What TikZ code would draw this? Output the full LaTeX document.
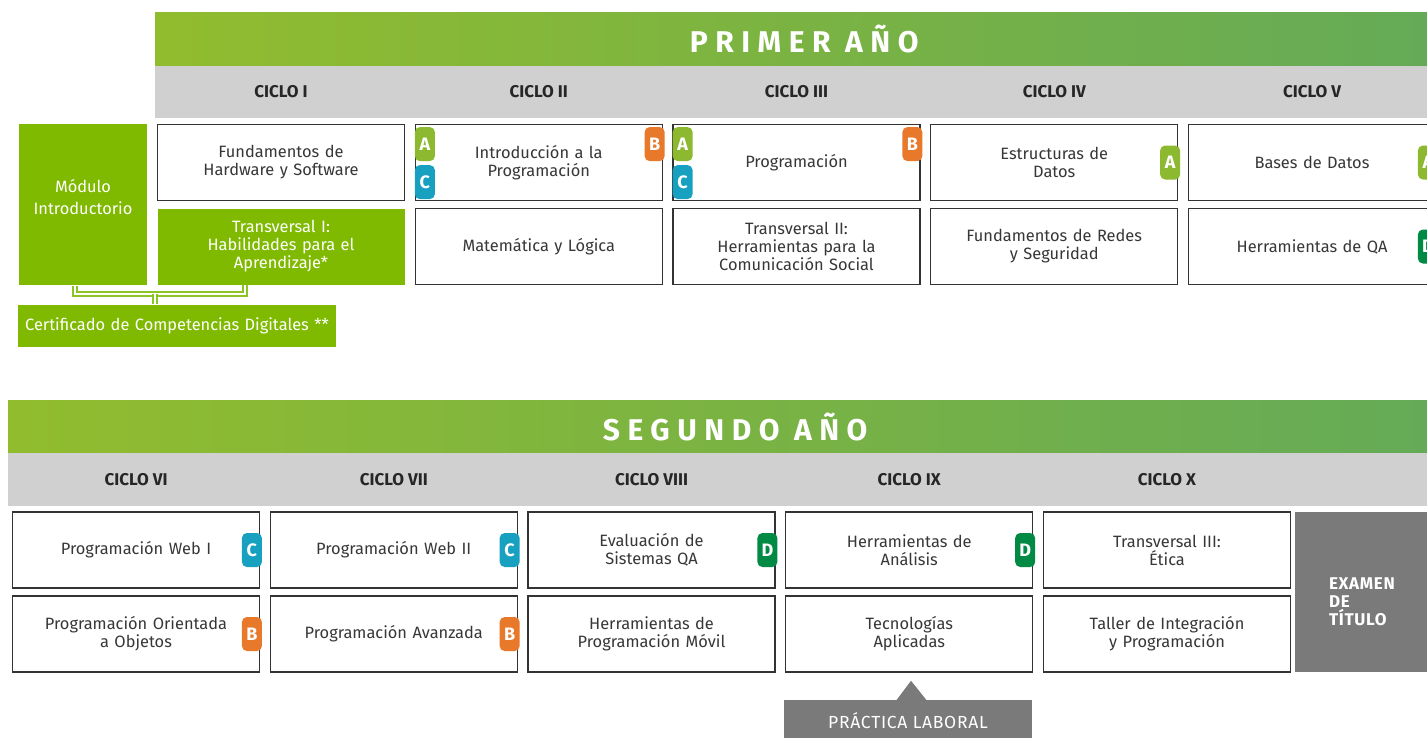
\documentclass[tikz,border=0pt]{standalone}
\usepackage{fontspec}
\setmainfont{Fira Sans}
\usepackage{tikz}
\usetikzlibrary{arrows,shapes,positioning}
\usepackage{xcolor}
\definecolor{dfgreen}{RGB}{127,186,0}
\definecolor{dflime}{RGB}{141,185,48}
\definecolor{dforange}{RGB}{232,120,42}
\definecolor{dfteal}{RGB}{23,160,192}
\definecolor{dfdeep}{RGB}{0,138,68}
\definecolor{dfbarleft}{RGB}{145,188,46}
\definecolor{dfbarright}{RGB}{100,170,88}
\definecolor{dfgrey}{RGB}{208,208,208}
\definecolor{dfdark}{RGB}{122,122,122}
\definecolor{dftext}{RGB}{55,55,55}
\definecolor{dfline}{RGB}{140,196,40}
\tikzstyle{yearbar} = [rectangle, minimum height=54pt, inner sep=0pt, left color=dfbarleft, right color=dfbarright, text=white, font=\fontsize{30}{30}\selectfont\bfseries\addfontfeature{LetterSpace=25}]
\tikzstyle{cyclebar} = [rectangle, minimum height=52pt, inner sep=0pt, fill=dfgrey]
\tikzstyle{cyclelabel} = [font=\fontsize{17}{17}\selectfont\bfseries, text=black!85]
\tikzstyle{course} = [rectangle, minimum width=247pt, minimum height=76pt, text width=235pt, align=center, draw=black!80, line width=1.2pt, fill=white, text=dftext, font=\fontsize{16.4}{18}\selectfont]
\tikzstyle{greenbox} = [course, draw=none, fill=dfgreen, text=white]
\tikzstyle{tag} = [rectangle, rounded corners=5pt, minimum width=20pt, minimum height=34pt, inner sep=0pt, text=white, font=\fontsize{18}{18}\selectfont\bfseries]
\tikzstyle{bracket} = [draw=dfline, line width=1.6pt, double=white, double distance=2pt]

\begin{document}
\begin{tikzpicture}[x=1pt, y=-1pt, node distance=257.75pt]
\useasboundingbox (0,0) rectangle (1427,737);

% Primer año
\node (primer) [yearbar, minimum width=1298pt, anchor=north west] at (155,12) {PRIMER AÑO};
\node (bar1) [cyclebar, minimum width=1298pt, anchor=north west] at (155,66) {};
\node (ci) [cyclelabel] at (281,92) {CICLO I};
\node (cii) [cyclelabel, right of=ci] {CICLO II};
\node (ciii) [cyclelabel, right of=cii] {CICLO III};
\node (civ) [cyclelabel, right of=ciii] {CICLO IV};
\node (cv) [cyclelabel, right of=civ] {CICLO V};

% First row
\node (fund) [course] at (281,162.5) {Fundamentos de\\Hardware y Software};
\node (intro) [course, right of=fund] {Introducción a la\\Programación};
\node (prog) [course, right of=intro] {Programación};
\node (estr) [course, right of=prog] {Estructuras de\\Datos};
\node (bases) [course, right of=estr] {Bases de Datos};

% Second row
\node (trans1) [greenbox, below of=fund, node distance=84pt] {Transversal I:\\Habilidades para el\\Aprendizaje*};
\node (mate) [course, right of=trans1] {Matemática y Lógica};
\node (trans2) [course, right of=mate] {Transversal II:\\Herramientas para la\\Comunicación Social};
\node (redes) [course, right of=trans2] {Fundamentos de Redes\\y Seguridad};
\node (qa) [course, right of=redes] {Herramientas de QA};

% Introductory module
\node (modulo) [greenbox, minimum width=128pt, minimum height=161pt, text width=120pt] at (83,204.5) {};
\node (modtxt) [align=center, text=white, font=\fontsize{16.4}{22}\selectfont] at ([yshift=7pt]modulo.center) {Módulo\\Introductorio};
\node (cert) [greenbox, minimum width=318pt, minimum height=42pt, text width=310pt] at (177,326) {Certificado de Competencias Digitales **};
\coordinate (join) at (155,294);
\draw [bracket] ([xshift=-8pt]modulo.south) |- (join) -| ([xshift=-36pt]trans1.south);
\draw [bracket] (join) -- (join |- cert.north);

% Tags
\node (introA) [tag, fill=dflime, anchor=north west] at ([yshift=-3pt]intro.north west) {A};
\node (introC) [tag, fill=dfteal, anchor=north west] at ([yshift=-41pt]intro.north west) {C};
\node (introB) [tag, fill=dforange, anchor=north east] at ([xshift=2pt,yshift=-3pt]intro.north east) {B};
\node (progA) [tag, fill=dflime, anchor=north west] at ([yshift=-3pt]prog.north west) {A};
\node (progC) [tag, fill=dfteal, anchor=north west] at ([yshift=-41pt]prog.north west) {C};
\node (progB) [tag, fill=dforange, anchor=north east] at ([xshift=2pt,yshift=-3pt]prog.north east) {B};
\node (estrA) [tag, fill=dflime, anchor=east] at ([xshift=2pt]estr.east) {A};
\node (basesA) [tag, fill=dflime, anchor=east] at ([xshift=2pt]bases.east) {A};
\node (qaD) [tag, fill=dfdeep, anchor=east] at ([xshift=2pt]qa.east) {D};

% Segundo año
\node (segundo) [yearbar, minimum width=1454pt, minimum height=53pt, anchor=north west] at (8,400) {SEGUNDO AÑO};
\node (bar2) [cyclebar, minimum width=1454pt, minimum height=53pt, anchor=north west] at (8,453) {};
\node (cvi) [cyclelabel] at (136,480) {CICLO VI};
\node (cvii) [cyclelabel, right of=cvi] {CICLO VII};
\node (cviii) [cyclelabel, right of=cvii] {CICLO VIII};
\node (cix) [cyclelabel, right of=cviii] {CICLO IX};
\node (cx) [cyclelabel, right of=cix] {CICLO X};

% Third row
\node (web1) [course] at (136,550) {Programación Web I};
\node (web2) [course, right of=web1] {Programación Web II};
\node (evalqa) [course, right of=web2] {Evaluación de\\Sistemas QA};
\node (anal) [course, right of=evalqa] {Herramientas de\\Análisis};
\node (etica) [course, right of=anal] {Transversal III:\\Ética};

% Fourth row
\node (poo) [course, below of=web1, node distance=84pt] {Programación Orientada\\a Objetos};
\node (avanz) [course, right of=poo] {Programación Avanzada};
\node (movil) [course, right of=avanz] {Herramientas de\\Programación Móvil};
\node (tecno) [course, right of=movil] {Tecnologías\\Aplicadas};
\node (taller) [course, right of=tecno] {Taller de Integración\\y Programación};

\node (web1C) [tag, fill=dfteal, anchor=east] at ([xshift=2pt]web1.east) {C};
\node (web2C) [tag, fill=dfteal, anchor=east] at ([xshift=2pt]web2.east) {C};
\node (evalD) [tag, fill=dfdeep, anchor=east] at ([xshift=2pt]evalqa.east) {D};
\node (analD) [tag, fill=dfdeep, anchor=east] at ([xshift=2pt]anal.east) {D};
\node (pooB) [tag, fill=dforange, anchor=east] at ([xshift=2pt]poo.east) {B};
\node (avanzB) [tag, fill=dforange, anchor=east] at ([xshift=2pt]avanz.east) {B};

% Exam and practice
\node (exam) [rectangle, fill=dfdark, minimum width=132pt, minimum height=160pt] at (1361,592) {};
\node (examtxt) [text width=72pt, align=left, text=white, font=\fontsize{17}{18}\selectfont\bfseries\addfontfeature{LetterSpace=4}] at ([xshift=4pt,yshift=-10pt]exam.center) {EXAMEN\\DE\\TÍTULO};
\node (prac) [rectangle, fill=dfdark, minimum width=248pt, minimum height=42pt, text=white, font=\fontsize{17.5}{17.5}\selectfont\addfontfeature{LetterSpace=4}] at (908,721) {PRÁCTICA LABORAL};
\fill [dfdark] ([xshift=-12pt,yshift=-1pt]prac.north) -- ([xshift=3pt,yshift=19pt]prac.north) -- ([xshift=19pt,yshift=-1pt]prac.north) -- cycle;
\end{tikzpicture}
\end{document}
